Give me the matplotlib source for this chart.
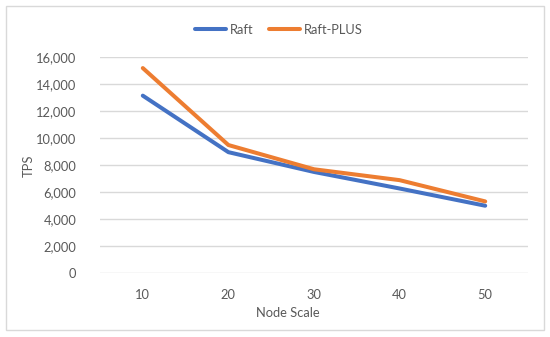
import matplotlib
matplotlib.use("Agg")
import matplotlib.pyplot as plt
from matplotlib.patches import Rectangle
from matplotlib.ticker import FuncFormatter

categories = ["10", "20", "30", "40", "50"]
raft = [13150, 8950, 7480, 6250, 4970]
raft_plus = [15200, 9480, 7680, 6870, 5290]
series_names = ["Raft", "Raft-PLUS"]
colors = ["#4472C4", "#ED7D31"]
yticks = [0, 2000, 4000, 6000, 8000, 10000, 12000, 14000, 16000]

plt.rcParams['font.family'] = ['Lato', 'DejaVu Sans']
text_color = "#595959"

W, H = 550, 337
fig = plt.figure(figsize=(W / 100, H / 100), dpi=100)
fig.patch.set_facecolor("white")

# outer chart border
fig.add_artist(Rectangle((6 / W, 1 - 330 / H), (544 - 6) / W, (330 - 6) / H,
                         transform=fig.transFigure, fill=False,
                         edgecolor="#D9D9D9", linewidth=1.0))

left, right, top, bottom = 100, 528, 57.3, 272.6
ax = fig.add_axes([left / W, 1 - bottom / H, (right - left) / W, (bottom - top) / H])

x = list(range(len(categories)))
l1, = ax.plot(x, raft, color=colors[0], linewidth=2.9, solid_capstyle="round",
              solid_joinstyle="round", label=series_names[0], zorder=3)
l2, = ax.plot(x, raft_plus, color=colors[1], linewidth=2.9, solid_capstyle="round",
              solid_joinstyle="round", label=series_names[1], zorder=3)

ax.set_xlim(-0.5, len(categories) - 0.5)
ax.set_ylim(0, 16000)
ax.set_yticks(yticks)
ax.yaxis.set_major_formatter(FuncFormatter(lambda v, p: f"{int(v):,}"))
ax.set_xticks(x)
ax.set_xticklabels(categories)
ax.grid(axis="y", color="#D9D9D9", linewidth=1.0, zorder=0)
ax.set_axisbelow(True)
for s in ax.spines.values():
    s.set_visible(False)
ax.tick_params(axis="both", length=0, colors=text_color, labelsize=9.3)
ax.tick_params(axis="y", pad=17)
ax.tick_params(axis="x", pad=12)

fig.text(288 / W, 1 - 313 / H, "Node Scale", ha="center", va="center",
         color=text_color, fontsize=9.3)
fig.text(29 / W, 1 - 166 / H, "TPS", ha="center", va="center", rotation=90,
         color=text_color, fontsize=9.3)

fig.legend(handles=[l1, l2], loc="center", bbox_to_anchor=(279 / W, 1 - 30 / H),
           ncol=2, frameon=False, fontsize=9.3, handlelength=2.4,
           handletextpad=0.3, columnspacing=1.2, labelcolor=text_color)

fig.savefig("out.png", dpi=100, facecolor="white")
